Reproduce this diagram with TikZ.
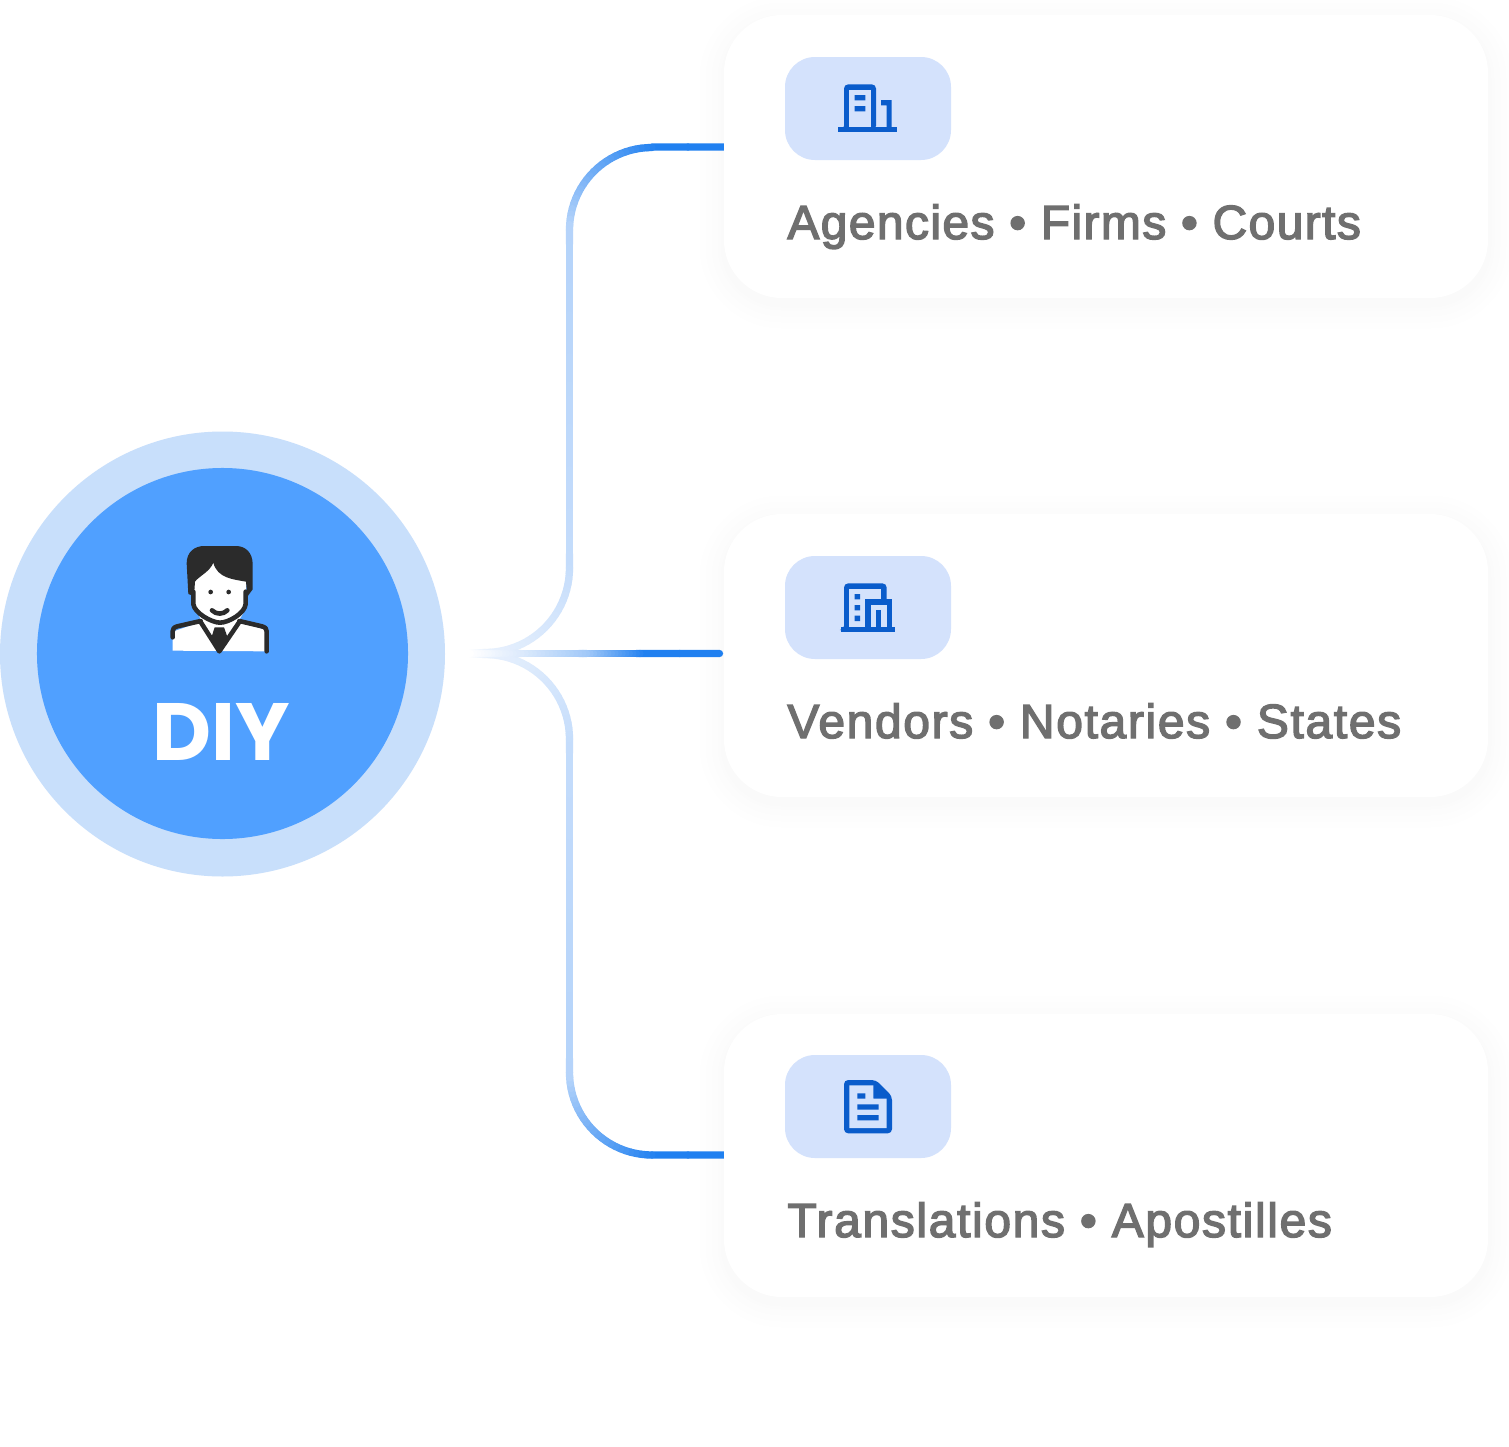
\documentclass[tikz,border=0pt]{standalone}
\usepackage{fontspec}
\setmainfont{Liberation Sans}
\newfontfamily\lbl{Liberation Sans}[RawFeature={embolden=3},LetterSpace=3]
\newfontfamily\lblw{Liberation Sans}[RawFeature={embolden=3},LetterSpace=3.5]
\newfontfamily\diyf{Poppins}
\usetikzlibrary{calc}
\definecolor{ringc}{HTML}{C8DFFB}
\definecolor{discc}{HTML}{50A0FF}
\definecolor{chipc}{HTML}{D4E2FC}
\definecolor{iconc}{HTML}{0A5CCB}
\definecolor{inkc}{HTML}{2B2B2B}
\definecolor{txtc}{HTML}{6F6F6F}
\definecolor{c0}{HTML}{2080F0}
\definecolor{c1}{HTML}{B4D3FA}
\definecolor{c2}{HTML}{C4DCFB}
\definecolor{c3}{HTML}{E8F1FD}
\definecolor{c4}{HTML}{A0C8F8}
\definecolor{c5}{HTML}{DCEAFC}
\tikzset{x=0.48pt,y=-0.48pt,
 cardbox/.style={rounded corners=27.8pt,fill=white},
 chipbox/.style={rounded corners=14.4pt,fill=chipc},
 cardlabel/.style={anchor=base west,inner sep=0,text=txtc,font=\lbl\fontsize{23pt}{26pt}\selectfont},
 cardlabelw/.style={cardlabel,font=\lblw\fontsize{23pt}{26pt}\selectfont},
 wire/.style={line width=3.5pt,line cap=round},
 pers/.style={draw=inkc,line width=2.2pt,line cap=round,line join=round},
 zoomed/.style={scale=1/3}}
% straight run with a colour ramp
\newcommand{\wrun}[7]{%
 \foreach \i in {1,...,#7}{
  \pgfmathsetmacro{\ta}{(\i-1)/#7}\pgfmathsetmacro{\tb}{\i/#7}
  \pgfmathsetmacro{\pp}{100*\tb}
  \draw[wire,draw=#6!\pp!#5] ($(#1,#2)!\ta!(#3,#4)$) -- ($(#1,#2)!\tb!(#3,#4)$);}}
% quarter arc with a colour ramp: centre, radius, start and end angle
\newcommand{\warc}[7]{%
 \foreach \i in {1,...,24}{
  \pgfmathsetmacro{\aa}{#4+(#5-#4)*(\i-1)/24}\pgfmathsetmacro{\ab}{#4+(#5-#4)*\i/24}
  \pgfmathsetmacro{\pp}{100*\i/24}
  \draw[wire,draw=#7!\pp!#6] ({#1+#3*cos(\aa)},{#2-#3*sin(\aa)}) -- ({#1+#3*cos(\ab)},{#2-#3*sin(\ab)});}}
% shadow: nested opaque greys
\newcommand{\shadowcard}[2]{%
 \foreach \k/\g in {24/254,21/254,18/253,15/253,12/252,9/252,6/251,3/250}{
  \pgfmathsetmacro{\rr}{27.8+\k*0.48}
  \pgfmathsetmacro{\gg}{\g/255}
  \definecolor{shc}{gray}{\gg}
  \path[fill=shc,rounded corners=\rr pt]
   (724-\k,#1-\k+6) rectangle (1488+\k,#2+\k+6);}}
\begin{document}
\begin{tikzpicture}
\useasboundingbox (0,0) rectangle (1509,1447);
\fill[white] (0,0) rectangle (1509,1447);
% hub
\node[circle,fill=ringc,minimum size=213.6pt,inner sep=0] (ring) at (222.5,654) {};
\node[circle,fill=discc,minimum size=178.1pt,inner sep=0] (hub) at (222.5,653.5) {};
\node[anchor=base,inner sep=0,text=white,font=\diyf\bfseries\fontsize{39pt}{40pt}\selectfont] (diy) at (221.5,760.5) {DIY};
% person
\begin{scope}[shift={(130,520)},zoomed]
 \fill[white] (128,392) -- (128,335) -- (215,305) -- (195,260) -- (190,180) -- (250,120) -- (350,180) -- (345,270) -- (325,305) -- (408,330) -- (408,394) -- cycle;
 \fill[inkc] (170,130) .. controls (170,95) and (195,78) .. (222,78) -- (318,78) .. controls (348,78) and (368,100) .. (368,132) -- (368,208) -- (352,230) -- (348,185) .. controls (310,178) and (262,175) .. (250,128) .. controls (240,155) and (205,170) .. (195,185) -- (192,228) -- (175,222) -- cycle;
 \draw[pers] (190,215) -- (190,252) .. controls (192,278) and (245,308) .. (270,308) .. controls (295,308) and (345,280) .. (347,252) -- (347,215);
 \fill[inkc] (242,216) circle (7) (296,216) circle (7);
 \draw[pers] (246,271) .. controls (258,284) and (280,284) .. (292,271);
 \draw[pers] (128,352) -- (128,334) .. controls (128,326) and (132,322) .. (142,319) -- (212,303);
 \draw[pers] (410,394) -- (410,334) .. controls (410,326) and (406,322) .. (396,319) -- (328,303);
 \draw[pers] (212,306) -- (268,394) -- (328,306);
 \fill[inkc] (254,322) -- (282,322) -- (292,350) -- (268,398) -- (245,350) -- cycle;
\end{scope}
% card shadows
\shadowcard{15}{298}
\shadowcard{514}{797}
\shadowcard{1014}{1297}
% upper connector
\wrun{724}{147}{652}{147}{c0}{c0}{2}
\warc{652}{230}{82.5}{90}{180}{c0}{c1}
\wrun{569.5}{230}{569.5}{568}{c1}{c2}{24}
\warc{485}{568}{84.5}{0}{-90}{c2}{c3}
\wrun{485}{652.5}{467}{653.5}{c3}{white}{6}
% lower connector
\wrun{724}{1155}{652}{1155}{c0}{c0}{2}
\warc{652}{1072.5}{82.5}{270}{180}{c0}{c1}
\wrun{569.5}{1072.5}{569.5}{739}{c1}{c2}{24}
\warc{485}{739}{84.5}{0}{90}{c2}{c3}
\wrun{485}{654.5}{467}{653.5}{c3}{white}{6}
% middle connector
\wrun{719.5}{653.5}{640}{653.5}{c0}{c0}{2}
\wrun{640}{653.5}{583}{653.5}{c0}{c4}{16}
\wrun{583}{653.5}{517}{653.5}{c4}{c5}{16}
\wrun{517}{653.5}{467}{653.5}{c5}{white}{14}
% cards
\path[cardbox] (724,15) rectangle (1488,298);
\path[cardbox] (724,514) rectangle (1488,797);
\path[cardbox] (724,1014) rectangle (1488,1297);
\path[chipbox] (785,57) rectangle (951,160);
\path[chipbox] (785,556) rectangle (951,659);
\path[chipbox] (785,1055) rectangle (951,1158);
% icon 1
\begin{scope}[shift={(780,50)},zoomed]
 \fill[iconc] (175,232) rectangle (352,247);
 \fill[iconc,rounded corners=2pt] (192,240) |- (288,103) |- cycle;
 \fill[chipc] (208,119) rectangle (272,232);
 \fill[iconc] (224,135) rectangle (256,151) (224,168) rectangle (256,184);
 \fill[iconc] (303,150) rectangle (335,166) (320,150) rectangle (335,240);
\end{scope}
% icon 2
\begin{scope}[shift={(780,550)},zoomed]
 \fill[iconc] (184,230) rectangle (344,245);
 \fill[iconc,rounded corners=2pt] (192,240) |- (320,100) |- cycle;
 \fill[chipc] (208,116) rectangle (304,232);
 \fill[iconc] (224,132) rectangle (240,148) (224,165) rectangle (240,181) (224,197) rectangle (240,213);
 \fill[iconc] (256,148) rectangle (336,240);
 \fill[chipc] (272,164) rectangle (320,232);
 \fill[iconc] (288,181) rectangle (304,240);
\end{scope}
% icon 3
\begin{scope}[shift={(780,1050)},zoomed]
 \fill[iconc,rounded corners=2pt] (192,90) -- (288,90) -- (336,138) -- (336,250) -- (192,250) -- cycle;
 \fill[chipc] (208,106) -- (280,106) -- (280,146) -- (320,146) -- (320,234) -- (208,234) -- cycle;
 \fill[iconc] (232,130) rectangle (256,146) (232,163) rectangle (296,179) (232,195) rectangle (296,211);
\end{scope}
% labels
\node[cardlabel] (la) at (787,239) {Agencies • Firms • Courts};
\node[cardlabelw] (lb) at (787,738) {Vendors • Notaries • States};
\node[cardlabelw] (lc) at (787,1237) {Translations • Apostilles};
\end{tikzpicture}
\end{document}
